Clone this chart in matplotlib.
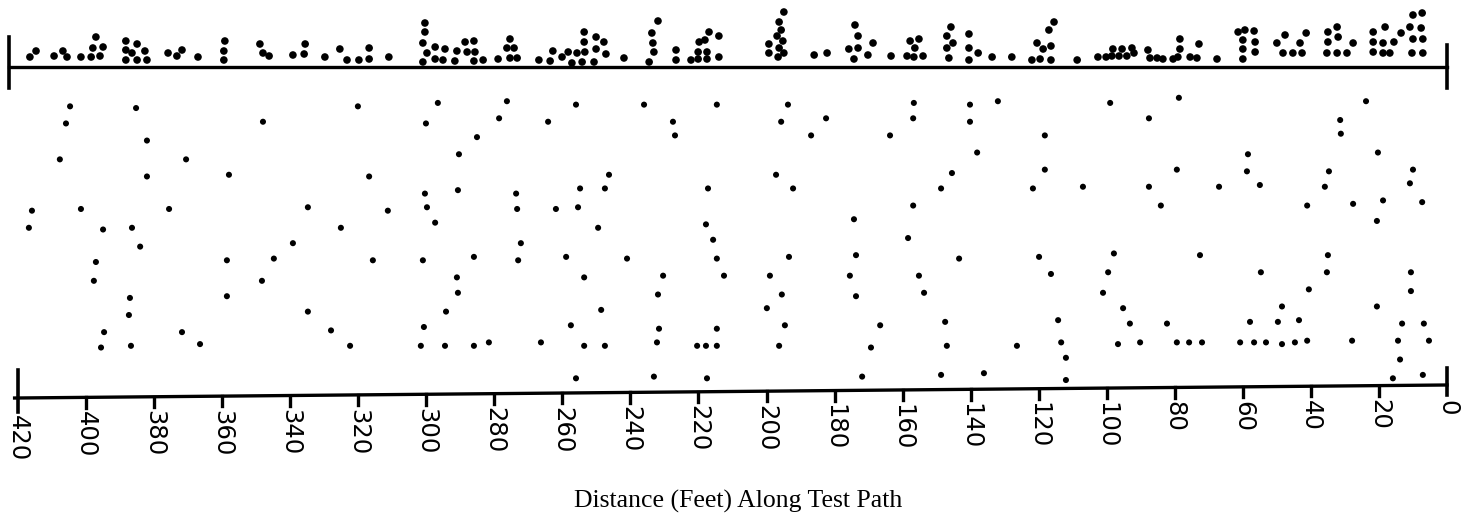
import matplotlib
matplotlib.use("Agg")
import matplotlib.pyplot as plt

# scattered positions along the path: distance (ft) and lateral position
main_dist = [
    404.7, 385.3, 405.9, 348.0, 320.1, 296.6, 300.1, 278.6, 382.1, 285.1,
    407.7, 370.6, 290.4, 382.1, 358.0, 316.8, 300.4, 290.7, 415.9, 401.5,
    375.6, 334.8, 311.3, 299.8, 416.8, 395.0, 386.5, 325.1, 297.4, 384.1,
    339.2, 397.1, 358.6, 344.8, 315.7, 301.0, 286.0, 397.7, 348.3, 291.0,
    387.1, 358.6, 290.7, 387.4, 334.8, 294.2, 394.7, 371.8, 328.0, 300.7,
    395.6, 386.8, 366.5, 322.4, 301.6, 294.5, 286.0, 281.6,
    276.3, 256.0, 236.0, 214.6, 193.7, 156.7, 140.2, 264.2, 227.5, 195.7,
    182.5, 156.9, 140.2, 226.9, 186.9, 163.7, 138.1, 246.3, 197.2, 145.5,
    273.6, 254.8, 247.5, 217.2, 192.2, 148.7, 273.3, 261.9, 255.4, 156.9,
    249.5, 217.8, 174.3, 158.4, 272.2, 215.7, 273.0, 258.9, 241.0, 214.6,
    193.4, 173.7, 143.4, 253.6, 230.4, 212.5, 199.0, 175.5, 155.2, 231.9,
    195.5, 173.7, 153.7, 248.6, 199.9, 257.5, 231.6, 214.6, 194.6, 166.6,
    147.5, 266.3, 253.6, 247.5, 232.2, 220.4, 217.8, 214.6, 196.3, 169.3,
    147.0, 256.0, 233.1, 217.5, 171.9, 148.7,
    132.0, 99.0, 78.8, 23.8, 87.6, 31.4, 118.2, 31.2, 58.5, 20.3,
    118.2, 79.4, 34.7, 10.0, 58.8, 121.7, 107.0, 87.6, 67.0, 55.0,
    35.9, 10.9, 84.1, 41.1, 27.6, 18.8, 7.3, 20.6, 119.9, 97.9,
    72.6, 35.0, 116.4, 99.6, 54.7, 35.3, 10.6, 101.1, 40.6, 10.6,
    95.2, 48.5, 20.6, 114.3, 93.2, 82.3, 57.9, 49.7, 43.5, 13.2,
    6.8, 126.4, 113.4, 96.7, 90.2, 79.4, 75.8, 72.0, 60.8, 56.7,
    53.2, 48.5, 44.7, 41.1, 27.9, 14.4, 5.3, 112.0, 13.8, 136.1,
    112.0, 15.9, 7.1,
]
main_lat = [
    16.7, 16.6, 15.7, 15.8, 16.7, 16.9, 15.7, 16.0, 14.7, 14.9,
    13.6, 13.6, 13.9, 12.6, 12.7, 12.6, 11.6, 11.8, 10.6, 10.7,
    10.7, 10.8, 10.6, 10.8, 9.6, 9.5, 9.6, 9.6, 9.9, 8.5,
    8.7, 7.6, 7.7, 7.8, 7.7, 7.7, 7.9, 6.5, 6.5, 6.7,
    5.5, 5.6, 5.8, 4.5, 4.7, 4.7, 3.5, 3.5, 3.6, 3.8,
    2.6, 2.7, 2.8, 2.7, 2.7, 2.7, 2.7, 2.9,
    17.0, 16.8, 16.8, 16.8, 16.8, 16.9, 16.8, 15.8, 15.8, 15.8,
    16.0, 16.0, 15.8, 15.0, 15.0, 15.0, 14.0, 12.7, 12.7, 12.8,
    11.6, 11.9, 11.9, 11.9, 11.9, 11.9, 10.7, 10.7, 10.8, 10.9,
    9.6, 9.8, 10.1, 9.0, 8.7, 8.9, 7.7, 7.9, 7.8, 7.8,
    7.9, 8.0, 7.8, 6.7, 6.8, 6.8, 6.8, 6.8, 6.8, 5.7,
    5.7, 5.6, 5.8, 4.8, 4.9, 3.9, 3.7, 3.7, 3.9, 3.9,
    4.1, 2.9, 2.7, 2.7, 2.9, 2.7, 2.7, 2.7, 2.7, 2.6,
    2.7, 0.8, 0.9, 0.8, 0.9, 1.0,
    17.0, 16.9, 17.2, 17.0, 16.0, 15.9, 15.0, 15.1, 13.9, 14.0,
    13.0, 13.0, 12.9, 13.0, 12.9, 11.9, 12.0, 12.0, 12.0, 12.1,
    12.0, 12.2, 10.9, 10.9, 11.0, 11.2, 11.1, 10.0, 7.9, 8.1,
    8.0, 8.0, 6.9, 7.0, 7.0, 7.0, 7.0, 5.8, 6.0, 5.9,
    4.9, 5.0, 5.0, 4.2, 4.0, 4.0, 4.1, 4.1, 4.2, 4.0,
    4.0, 2.7, 2.9, 2.8, 2.9, 2.9, 2.9, 2.9, 2.9, 2.9,
    2.9, 2.8, 2.9, 3.0, 3.0, 3.0, 3.0, 2.0, 1.9, 1.1,
    0.7, 0.8, 1.0,
]

# stacked dots above the top line: distance (ft) and stack level
top_dist = [
    416.5, 414.7, 409.4, 406.8, 405.6, 401.5, 398.5, 398.0, 397.1, 395.9,
    395.0, 388.3, 388.3, 388.3, 386.5, 385.0, 385.0, 382.7, 382.1, 375.9,
    373.3, 371.8, 367.1, 359.2, 359.5, 359.5, 348.9, 348.0, 346.2, 339.2,
    335.6, 335.9, 329.8, 325.4, 323.3, 319.8, 316.8, 316.8, 311.0, 300.4,
    300.4, 301.0, 299.8, 301.0, 297.4, 297.4, 294.5, 295.1, 291.0, 291.6,
    288.6, 288.0, 286.0, 285.7, 286.0, 283.3, 278.9,
    275.4, 276.3, 274.2, 275.4, 273.3, 266.9, 263.6, 262.8, 260.1, 258.3,
    257.2, 255.7, 254.2, 253.6, 253.6, 253.4, 250.1, 250.1, 250.7, 247.8,
    247.2, 241.9, 231.9, 233.7, 233.4, 233.1, 234.5, 226.6, 226.6, 222.2,
    220.1, 217.5, 220.1, 217.5, 219.8, 218.1, 216.9, 214.0, 214.0, 194.9,
    196.3, 195.7, 196.9, 199.3, 195.2, 196.3, 199.3, 196.6, 194.9, 186.0,
    182.2, 174.0, 173.1, 175.8, 173.1, 174.3, 170.2, 168.7, 163.4, 157.8,
    155.2, 156.4, 158.7, 156.7, 154.0, 145.8, 147.0, 145.2, 147.0, 146.4,
    140.5, 140.5, 140.5, 137.8,
    133.7, 127.9, 115.5, 117.0, 120.5, 118.7, 116.4, 116.4, 122.0, 119.6,
    108.7, 102.6, 100.2, 98.5, 98.2, 96.4, 95.5, 94.1, 92.6, 92.0,
    87.9, 87.3, 85.2, 83.5, 80.5, 78.5, 78.5, 79.1, 75.5, 73.5,
    72.9, 67.6, 61.4, 59.4, 60.0, 60.0, 60.0, 56.7, 56.4, 56.4,
    50.0, 47.6, 45.3, 43.2, 41.4, 42.6, 48.2, 35.0, 32.3, 35.0,
    32.0, 35.3, 32.3, 29.4, 27.6, 21.7, 18.2, 21.7, 21.7, 18.8,
    16.8, 18.8, 15.6, 13.5, 10.0, 7.3, 10.9, 7.6, 10.0, 7.1,
    10.3, 7.1,
]
top_level = [
    1.0, 1.6, 1.1, 1.6, 1.0, 1.0, 1.0, 1.9, 3.0, 1.1,
    2.0, 2.6, 1.7, 0.7, 1.4, 2.3, 0.7, 1.6, 0.7, 1.4,
    1.1, 1.7, 1.0, 2.6, 1.6, 0.7, 2.3, 1.4, 1.1, 1.2,
    2.3, 1.3, 1.0, 1.8, 0.7, 0.7, 1.9, 0.8, 1.0, 4.4,
    3.5, 2.4, 1.4, 0.5, 2.0, 0.8, 1.8, 0.7, 1.6, 0.6,
    2.5, 1.5, 2.6, 1.5, 0.6, 0.7, 0.8,
    2.8, 1.9, 1.9, 0.9, 0.9, 0.7, 0.6, 1.6, 1.0, 1.5,
    0.4, 1.4, 0.5, 3.5, 2.5, 1.5, 3.0, 1.8, 0.5, 2.5,
    1.3, 0.9, 4.6, 3.4, 2.4, 1.5, 0.5, 1.7, 0.7, 0.7,
    0.8, 0.8, 1.5, 1.5, 2.5, 2.7, 3.5, 3.1, 1.0, 5.5,
    4.5, 3.7, 3.1, 2.3, 2.6, 1.9, 1.4, 1.0, 1.4, 1.2,
    1.4, 4.2, 3.1, 1.8, 1.9, 0.8, 1.2, 2.4, 1.1, 2.6,
    2.8, 1.9, 1.1, 1.0, 1.1, 4.0, 3.1, 2.4, 1.9, 0.9,
    3.3, 1.9, 0.7, 1.4,
    1.0, 1.0, 4.5, 3.7, 2.4, 1.8, 2.1, 0.7, 0.7, 0.8,
    0.7, 1.0, 1.0, 1.1, 1.8, 1.1, 1.8, 1.1, 1.9, 1.4,
    1.7, 0.9, 0.9, 0.8, 0.8, 1.8, 2.8, 1.0, 1.0, 0.9,
    2.3, 0.8, 3.5, 3.7, 2.7, 1.8, 0.8, 3.6, 2.5, 1.5,
    2.4, 3.2, 1.4, 2.4, 3.4, 1.4, 1.4, 3.5, 4.0, 2.5,
    3.0, 1.4, 1.4, 1.4, 2.4, 3.5, 4.0, 2.5, 1.5, 1.4,
    1.4, 2.4, 2.5, 3.4, 5.2, 5.4, 4.0, 3.9, 2.8, 2.8,
    1.4, 1.4,
]

tick_values = list(range(0, 421, 20))
xlabel = "Distance (Feet) Along Test Path"

W, H = 1464, 517
fig = plt.figure(figsize=(W / 100, H / 100), dpi=100)

left = 18 / W
width = (1447 - 18) / W
ax = fig.add_axes([left, (H - 392) / H, width, (392 - 67) / H])
ax_top = fig.add_axes([left, (H - 67) / H, width, 67 / H])

# main scatter
ax.scatter(main_dist, main_lat, s=19, color="black", edgecolors="none", clip_on=False)
ax.set_xlim(420, 0)
ax.set_ylim(0, 19.0)
ax.axis("off")

# the bottom line sits slightly askew in the original
base_l, base_r = -0.35, 0.41


def base(d):
    return base_r + (base_l - base_r) * d / 420


ax.plot([421, 0], [base(421), base(0)], color="black", lw=2.4, clip_on=False)
for v in tick_values:
    b = base(v)
    if v == 420:
        ax.plot([v, v], [1.3, -1.15], color="black", lw=2.6, clip_on=False)
        off = 1.0
    elif v == 0:
        ax.plot([v, v], [1.4, -0.2], color="black", lw=2.6, clip_on=False)
        off = 0.85
    else:
        ax.plot([v, v], [b, b - 0.6], color="black", lw=2.4, clip_on=False)
        off = 0.8
    ax.text(v, b - off, str(v), rotation=270, ha="center", va="top",
            fontsize=17.5, family="DejaVu Sans")

# top dot strip
ax_top.scatter(top_dist, top_level, s=30, color="black", edgecolors="none", clip_on=False)
ax_top.set_xlim(420, 0)
ax_top.set_ylim(0, 6.7)
ax_top.axis("off")
ax_top.plot([422.5, 0], [0, 0], color="black", lw=2.4, clip_on=False)
ax_top.plot([422.5, 422.5], [-2.1, 3.0], color="black", lw=2.6, clip_on=False)
ax_top.plot([0, 0], [-2.1, 2.2], color="black", lw=2.6, clip_on=False)

fig.text(738 / W, (H - 501) / H, xlabel, ha="center", va="center",
         fontsize=18.5, family="Liberation Serif")

fig.savefig("out.png", dpi=100, facecolor="white")
